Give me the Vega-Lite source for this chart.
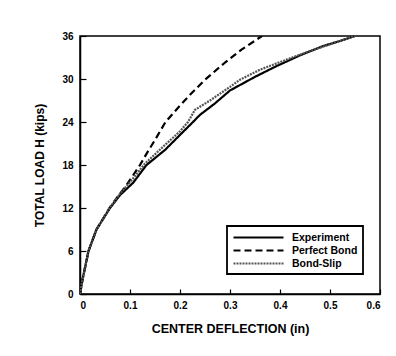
{
  "$schema": "https://vega.github.io/schema/vega-lite/v6.json",
  "width": 300,
  "height": 258,
  "autosize": {"type": "none"},
  "padding": {"left": 80, "top": 36, "right": 16, "bottom": 62},
  "background": "white",
  "config": {
    "view": {"stroke": "black", "strokeWidth": 1.5},
    "font": "Liberation Sans"
  },
  "data": {
    "values": [
      {"series": "Experiment", "x": 0, "y": 0},
      {"series": "Experiment", "x": 0.005, "y": 2},
      {"series": "Experiment", "x": 0.017, "y": 6},
      {"series": "Experiment", "x": 0.033, "y": 9},
      {"series": "Experiment", "x": 0.06, "y": 12},
      {"series": "Experiment", "x": 0.08, "y": 13.8},
      {"series": "Experiment", "x": 0.106, "y": 15.5},
      {"series": "Experiment", "x": 0.133, "y": 18},
      {"series": "Experiment", "x": 0.17, "y": 20.1},
      {"series": "Experiment", "x": 0.2, "y": 22.2},
      {"series": "Experiment", "x": 0.226, "y": 24},
      {"series": "Experiment", "x": 0.24, "y": 25},
      {"series": "Experiment", "x": 0.27, "y": 26.6},
      {"series": "Experiment", "x": 0.3, "y": 28.4},
      {"series": "Experiment", "x": 0.35, "y": 30.3},
      {"series": "Experiment", "x": 0.393, "y": 31.8},
      {"series": "Experiment", "x": 0.44, "y": 33.3},
      {"series": "Experiment", "x": 0.486, "y": 34.6},
      {"series": "Experiment", "x": 0.52, "y": 35.3},
      {"series": "Experiment", "x": 0.55, "y": 36},
      {"series": "Perfect Bond", "x": 0, "y": 0},
      {"series": "Perfect Bond", "x": 0.005, "y": 2},
      {"series": "Perfect Bond", "x": 0.017, "y": 6},
      {"series": "Perfect Bond", "x": 0.033, "y": 9},
      {"series": "Perfect Bond", "x": 0.06, "y": 12.1},
      {"series": "Perfect Bond", "x": 0.096, "y": 15.5},
      {"series": "Perfect Bond", "x": 0.12, "y": 18},
      {"series": "Perfect Bond", "x": 0.135, "y": 19.8},
      {"series": "Perfect Bond", "x": 0.15, "y": 21.5},
      {"series": "Perfect Bond", "x": 0.171, "y": 24},
      {"series": "Perfect Bond", "x": 0.2, "y": 26.3},
      {"series": "Perfect Bond", "x": 0.22, "y": 27.8},
      {"series": "Perfect Bond", "x": 0.25, "y": 29.9},
      {"series": "Perfect Bond", "x": 0.29, "y": 32.3},
      {"series": "Perfect Bond", "x": 0.323, "y": 34.1},
      {"series": "Perfect Bond", "x": 0.364, "y": 36},
      {"series": "Bond-Slip", "x": 0, "y": 0},
      {"series": "Bond-Slip", "x": 0.005, "y": 2},
      {"series": "Bond-Slip", "x": 0.017, "y": 6},
      {"series": "Bond-Slip", "x": 0.033, "y": 9},
      {"series": "Bond-Slip", "x": 0.06, "y": 12.1},
      {"series": "Bond-Slip", "x": 0.08, "y": 14},
      {"series": "Bond-Slip", "x": 0.1, "y": 15.6},
      {"series": "Bond-Slip", "x": 0.13, "y": 18.2},
      {"series": "Bond-Slip", "x": 0.17, "y": 20.8},
      {"series": "Bond-Slip", "x": 0.2, "y": 22.7},
      {"series": "Bond-Slip", "x": 0.216, "y": 24},
      {"series": "Bond-Slip", "x": 0.23, "y": 25.7},
      {"series": "Bond-Slip", "x": 0.26, "y": 27},
      {"series": "Bond-Slip", "x": 0.3, "y": 28.9},
      {"series": "Bond-Slip", "x": 0.32, "y": 29.9},
      {"series": "Bond-Slip", "x": 0.36, "y": 31.3},
      {"series": "Bond-Slip", "x": 0.413, "y": 32.7},
      {"series": "Bond-Slip", "x": 0.46, "y": 33.9},
      {"series": "Bond-Slip", "x": 0.507, "y": 35},
      {"series": "Bond-Slip", "x": 0.55, "y": 36}
    ]
  },
  "mark": {"type": "line", "clip": true},
  "encoding": {
    "x": {
      "field": "x", "type": "quantitative",
      "scale": {"domain": [0, 0.6], "nice": false},
      "axis": {
        "title": "CENTER DEFLECTION (in)",
        "values": [0, 0.1, 0.2, 0.3, 0.4, 0.5, 0.6],
        "format": ".1~f",
        "grid": false,
        "domainColor": "black", "domainWidth": 1.5,
        "tickColor": "black", "tickWidth": 1.2, "tickSize": -5,
        "labelFont": "Liberation Sans", "labelFontWeight": "bold", "labelFontSize": 10, "labelColor": "black",
        "labelPadding": 11,
        "titleFont": "Liberation Sans", "titleFontSize": 12.5, "titleFontWeight": "bold", "titleColor": "black",
        "titlePadding": 12
      }
    },
    "y": {
      "field": "y", "type": "quantitative",
      "scale": {"domain": [0, 36], "nice": false},
      "axis": {
        "title": "TOTAL LOAD H (kips)",
        "values": [0, 6, 12, 18, 24, 30, 36],
        "grid": false,
        "domainColor": "black", "domainWidth": 1.5,
        "tickColor": "black", "tickWidth": 1.2, "tickSize": -6,
        "labelFont": "Liberation Sans", "labelFontWeight": "bold", "labelFontSize": 10, "labelColor": "black",
        "labelPadding": 13,
        "titleFont": "Liberation Sans", "titleFontSize": 12, "titleFontWeight": "bold", "titleColor": "black",
        "titlePadding": 15
      }
    },
    "color": {
      "field": "series", "type": "nominal",
      "scale": {"domain": ["Experiment", "Perfect Bond", "Bond-Slip"], "range": ["black", "black", "#555555"]},
      "legend": {
        "title": null,
        "orient": "none",
        "legendX": 147,
        "legendY": 190,
        "strokeColor": "black",
        "fillColor": "white",
        "padding": 5,
        "symbolType": "M-1,0H9",
        "symbolSize": 100,
        "labelFont": "Liberation Sans",
        "labelFontSize": 10.5,
        "labelFontWeight": "bold",
        "labelColor": "black",
        "rowPadding": 1,
        "labelOffset": 47,
        "encode": {"legend": {"update": {"strokeWidth": {"value": 1.8}}}}
      }
    },
    "strokeDash": {
      "field": "series", "type": "nominal",
      "scale": {"domain": ["Experiment", "Perfect Bond", "Bond-Slip"], "range": [[1, 0], [7, 4], [2, 1]]},
      "legend": null
    },
    "strokeWidth": {
      "field": "series", "type": "nominal",
      "scale": {"domain": ["Experiment", "Perfect Bond", "Bond-Slip"], "range": [2.2, 2.2, 1.3]},
      "legend": null
    }
  }
}
